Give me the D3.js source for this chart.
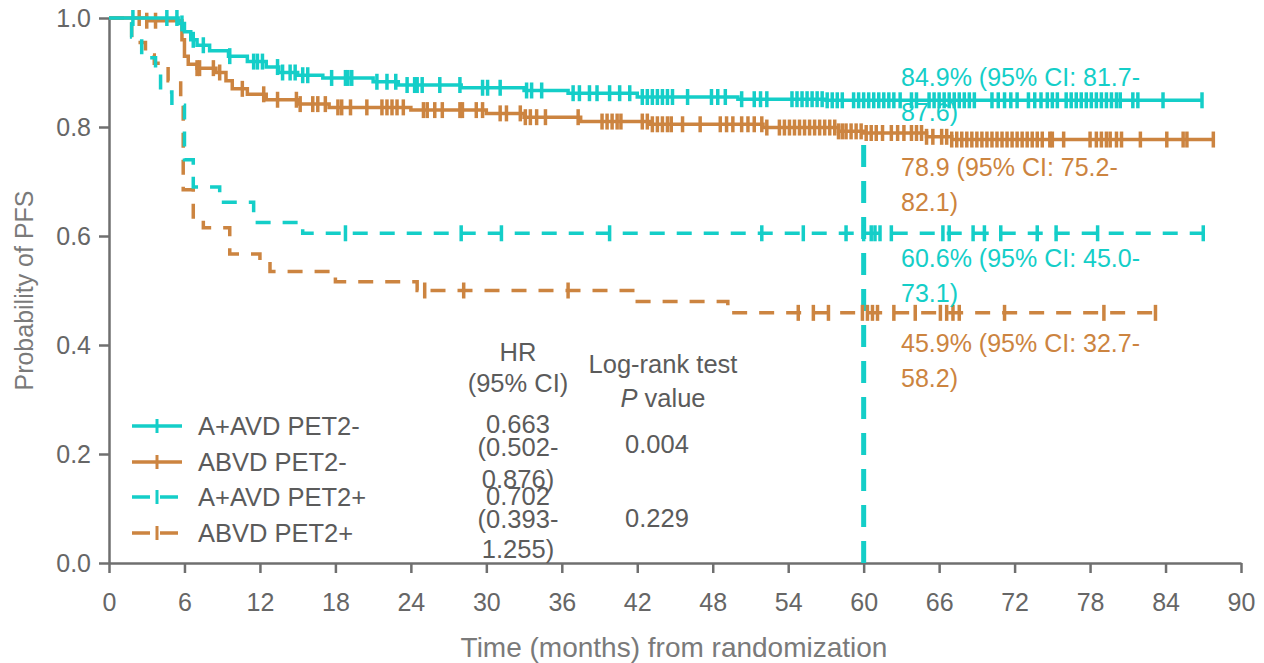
<!DOCTYPE html>
<html>
<head>
<meta charset="utf-8">
<script src="https://cdn.jsdelivr.net/npm/d3@7"></script>
<style>
  body { margin: 0; background: #fff; }
  svg { display: block; font-family: 'Liberation Sans', Arial, sans-serif; }
</style>
</head>
<body>
<svg id="chart"></svg>
<script>
// Kaplan-Meier PFS curves by PET2 status

var xTickValues = [0, 6, 12, 18, 24, 30, 36, 42, 48, 54, 60, 66, 72, 78, 84, 90];
var yTickValues = [0, 0.2, 0.4, 0.6, 0.8, 1.0];

// A+AVD PET2- (solid cyan)
var aavdNegTimes = [0, 5.5, 6, 6.5, 7, 8, 9.5, 11, 12.5, 13.5, 15, 17, 21, 23, 28, 33, 36.5, 42, 50, 57];
var aavdNegSurv  = [1, 0.99, 0.975, 0.96, 0.95, 0.94, 0.93, 0.92, 0.91, 0.9, 0.895, 0.89, 0.883, 0.877, 0.872, 0.867, 0.862, 0.855, 0.851, 0.849];
var aavdNegEnd = 86.9;
var aavdNegCensor = [1.9, 4.6, 5.4, 5.8, 6.7, 7.5, 9.6, 11.5, 11.8, 12.2, 13.4, 13.8, 14.4, 14.8, 15.4, 15.8, 17.7, 18.8, 19.0, 19.3,
  21.3, 22.1, 22.8, 23.7, 24.3, 24.5, 24.9, 26.3, 27.9, 29.7, 30.1, 31.1, 33.2, 33.6, 34.4, 36.9, 37.4, 38.2, 38.8, 39.8,
  40.6, 41.4, 42.4, 42.8, 43.2, 43.6, 44.0, 44.4, 44.8, 46.0, 47.9, 48.4, 49.0, 50.3, 51.3, 51.8, 52.3, 54.3, 54.7, 55.1,
  55.5, 55.9, 56.3, 56.7, 57.1, 57.5, 57.9, 58.3, 59.2, 59.6, 60.0, 60.4, 60.8, 61.2, 61.6, 62.0, 62.4, 62.9, 63.8, 64.2,
  65.2, 65.6, 66.0, 66.4, 66.8, 67.2, 67.6, 68.0, 68.4, 68.8, 70.2, 70.7, 71.2, 71.7, 72.2, 73.1, 73.6, 74.1, 74.6, 75.0,
  75.4, 76.1, 76.5, 76.9, 77.3, 77.7, 78.1, 78.5, 78.9, 79.3, 79.7, 80.1, 80.4, 81.4, 81.8, 83.8, 86.9];

// ABVD PET2- (solid orange)
var abvdNegTimes = [0, 3, 5.8, 6, 6.3, 7, 8.5, 9.3, 9.8, 11, 12.5, 15, 17.5, 24, 30, 33, 37.5, 43, 52, 58, 60, 65, 67];
var abvdNegSurv  = [1, 0.995, 0.96, 0.93, 0.915, 0.908, 0.9, 0.885, 0.87, 0.86, 0.85, 0.842, 0.836, 0.831, 0.825, 0.818, 0.81, 0.805, 0.799, 0.792, 0.789, 0.782, 0.777];
var abvdNegEnd = 87.8;
var abvdNegCensor = [2.4, 3.0, 3.7, 7.0, 7.2, 8.3, 8.8, 10.6, 12.3, 13.4, 14.9, 15.2, 16.2, 16.6, 17.2, 18.2, 18.5, 19.2, 20.5, 21.7,
  22.1, 22.5, 22.9, 23.4, 25.0, 25.3, 25.9, 26.5, 27.9, 28.1, 29.2, 29.7, 31.1, 31.6, 32.7, 33.1, 33.5, 34.0, 34.7, 37.3,
  39.2, 39.6, 40.0, 40.4, 40.7, 42.4, 42.8, 43.2, 43.6, 44.0, 44.4, 44.7, 45.6, 47.0, 48.6, 49.1, 49.6, 50.3, 50.8, 51.3,
  51.9, 52.3, 53.3, 53.7, 54.1, 54.5, 54.9, 55.3, 55.7, 56.1, 56.5, 56.9, 57.3, 57.7, 58.0, 58.3, 58.6, 59.0, 59.4, 59.8,
  60.2, 60.6, 61.0, 61.5, 62.2, 62.7, 63.2, 63.8, 64.2, 64.6, 65.0, 65.5, 66.2, 66.6, 67.0, 67.4, 67.8, 68.2, 68.6, 69.0,
  69.4, 69.8, 70.2, 70.6, 71.0, 71.4, 71.8, 72.2, 72.6, 73.0, 73.4, 73.8, 74.2, 74.8, 75.0, 75.9, 78.0, 78.5, 78.9, 79.3,
  79.6, 80.1, 80.5, 82.0, 84.1, 85.4, 85.7, 87.8];

// A+AVD PET2+ (dashed cyan)
var aavdPosTimes = [0, 1.8, 2.6, 3.7, 4.1, 5, 6, 6.7, 8.8, 11.5, 15.4];
var aavdPosSurv  = [1, 0.965, 0.927, 0.905, 0.864, 0.84, 0.74, 0.69, 0.662, 0.625, 0.605];
var aavdPosEnd = 87.0;
var aavdPosCensor = [18.8, 28.0, 31.2, 39.8, 51.9, 55.2, 58.6, 60.0, 60.6, 60.9, 61.3, 62.2, 66.3, 66.8, 68.7, 69.6, 70.9, 73.8, 75.3, 78.6, 87.0];

// ABVD PET2+ (dashed orange)
var abvdPosTimes = [0, 1.8, 2.9, 3.6, 4.7, 5.7, 5.9, 6.7, 7.5, 9.6, 12, 12.8, 18, 24.5, 42, 49.2];
var abvdPosSurv  = [1, 0.955, 0.932, 0.917, 0.885, 0.845, 0.685, 0.629, 0.615, 0.567, 0.554, 0.535, 0.516, 0.5, 0.48, 0.459];
var abvdPosEnd = 83.2;
var abvdPosCensor = [25.1, 28.2, 36.5, 54.8, 56.0, 57.2, 59.9, 60.3, 60.7, 61.1, 62.4, 64.1, 66.1, 66.6, 67.1, 67.6, 71.2, 79.1, 83.2];

var legendLabels = ['A+AVD PET2-', 'ABVD PET2-', 'A+AVD PET2+', 'ABVD PET2+'];
var rateLabels = [
  ['84.9% (95% CI: 81.7-', '87.6)'],
  ['78.9 (95% CI: 75.2-', '82.1)'],
  ['60.6% (95% CI: 45.0-', '73.1)'],
  ['45.9% (95% CI: 32.7-', '58.2)']
];
var hrLabels = [['0.663', '(0.502-', '0.876)'], ['0.702', '(0.393-', '1.255)']];
var pLabels = ['0.004', '0.229'];
var landmarkMonth = 60;
var landmarkTop = 0.78;

var cyan = '#14CEC8';
var orange = '#CC8440';
var gray = '#5b5b5b';

var width = 1264, height = 663;
var svg = d3.select('#chart').attr('width', width).attr('height', height);

var x = d3.scaleLinear().domain([0, 90]).range([109, 1241]);
var y = d3.scaleLinear().domain([0, 1]).range([563, 18]);

var series = [
  { times: aavdNegTimes, surv: aavdNegSurv, end: aavdNegEnd, censor: aavdNegCensor, color: cyan, dashed: false },
  { times: abvdNegTimes, surv: abvdNegSurv, end: abvdNegEnd, censor: abvdNegCensor, color: orange, dashed: false },
  { times: aavdPosTimes, surv: aavdPosSurv, end: aavdPosEnd, censor: aavdPosCensor, color: cyan, dashed: true },
  { times: abvdPosTimes, surv: abvdPosSurv, end: abvdPosEnd, censor: abvdPosCensor, color: orange, dashed: true }
];

function survAt(s, t) {
  var v = s.surv[0];
  for (var i = 0; i < s.times.length; i++) {
    if (s.times[i] <= t) v = s.surv[i];
  }
  return v;
}

// axes
var axisColor = '#6f6f6f';
var yAxis = svg.append('g')
  .attr('transform', 'translate(' + x(0) + ',0)')
  .call(d3.axisLeft(y).tickValues(yTickValues).tickFormat(d3.format('.1f')).tickSize(10).tickSizeOuter(0).tickPadding(8));
var xAxis = svg.append('g')
  .attr('transform', 'translate(0,' + y(0) + ')')
  .call(d3.axisBottom(x).tickValues(xTickValues).tickSize(10).tickSizeOuter(0).tickPadding(20));
[xAxis, yAxis].forEach(function(a) {
  a.select('.domain').attr('stroke', axisColor).attr('stroke-width', 2.5);
  a.selectAll('.tick line').attr('stroke', axisColor).attr('stroke-width', 2.5);
  a.selectAll('.tick text').attr('fill', '#666').style('font-size', '25px').style('font-family', "'Liberation Sans', Arial, sans-serif");
});

svg.append('text')
  .attr('x', 674).attr('y', 657)
  .attr('text-anchor', 'middle')
  .attr('fill', '#7a7a7a')
  .style('font-size', '28px')
  .text('Time (months) from randomization');

svg.append('text')
  .attr('transform', 'translate(33,' + y(0.5) + ') rotate(-90)')
  .attr('text-anchor', 'middle')
  .attr('fill', '#7a7a7a')
  .style('font-size', '25px')
  .text('Probability of PFS');

// landmark line at 60 months
svg.append('line')
  .attr('x1', x(landmarkMonth)).attr('x2', x(landmarkMonth))
  .attr('y1', y(0)).attr('y2', y(landmarkTop))
  .attr('stroke', cyan).attr('stroke-width', 5)
  .attr('stroke-dasharray', '22,14');

// curves
var stepLine = d3.line()
  .x(function(d) { return x(d[0]); })
  .y(function(d) { return y(d[1]); })
  .curve(d3.curveStepAfter);

series.slice().reverse().forEach(function(s) {
  var pts = s.times.map(function(t, i) { return [t, s.surv[i]]; });
  pts.push([s.end, s.surv[s.surv.length - 1]]);
  svg.append('path')
    .datum(pts)
    .attr('d', stepLine)
    .attr('fill', 'none')
    .attr('stroke', s.color)
    .attr('stroke-width', 3.5)
    .attr('stroke-dasharray', s.dashed ? '15,12' : null);

  svg.append('g').selectAll('line')
    .data(s.censor)
    .enter().append('line')
    .attr('x1', function(t) { return x(t); })
    .attr('x2', function(t) { return x(t); })
    .attr('y1', function(t) { return y(survAt(s, t)) - 8; })
    .attr('y2', function(t) { return y(survAt(s, t)) + 8; })
    .attr('stroke', s.color)
    .attr('stroke-width', 3.5);
});

// rate annotations
var rateY = [77, 167, 258, 343];
rateLabels.forEach(function(lines, i) {
  var t = svg.append('text')
    .attr('x', 901).attr('y', rateY[i])
    .attr('dy', '0.35em')
    .attr('fill', series[i].color)
    .style('font-size', '25px');
  t.append('tspan').attr('x', 901).text(lines[0]);
  t.append('tspan').attr('x', 901).attr('dy', 35).text(lines[1]);
});

// legend
var legY = [426, 462, 497, 533];
legendLabels.forEach(function(label, i) {
  var s = series[i];
  svg.append('line')
    .attr('x1', 132).attr('x2', 182)
    .attr('y1', legY[i]).attr('y2', legY[i])
    .attr('stroke', s.color).attr('stroke-width', 3.5)
    .attr('stroke-dasharray', s.dashed ? '18,10' : null);
  svg.append('line')
    .attr('x1', 157).attr('x2', 157)
    .attr('y1', legY[i] - 7).attr('y2', legY[i] + 7)
    .attr('stroke', s.color).attr('stroke-width', 3);
  svg.append('text')
    .attr('x', 198).attr('y', legY[i]).attr('dy', '0.35em')
    .attr('fill', gray)
    .style('font-size', '25.5px')
    .text(label);
});

// HR / P value table
function tableText(tx, ty, str) {
  return svg.append('text')
    .attr('x', tx).attr('y', ty).attr('dy', '0.35em')
    .attr('text-anchor', 'middle')
    .attr('fill', gray)
    .style('font-size', '25.5px')
    .text(str);
}
tableText(518, 352, 'HR');
tableText(518, 383, '(95% CI)');
tableText(663, 364, 'Log-rank test');
var pv = tableText(663, 398, '');
pv.append('tspan').style('font-style', 'italic').text('P');
pv.append('tspan').text(' value');

var hrY = [[424, 447, 479], [496, 519, 549]];
hrLabels.forEach(function(lines, i) {
  lines.forEach(function(str, j) { tableText(518, hrY[i][j], str); });
});
var pY = [444, 518];
pLabels.forEach(function(str, i) { tableText(657, pY[i], str); });
</script>
</body>
</html>
